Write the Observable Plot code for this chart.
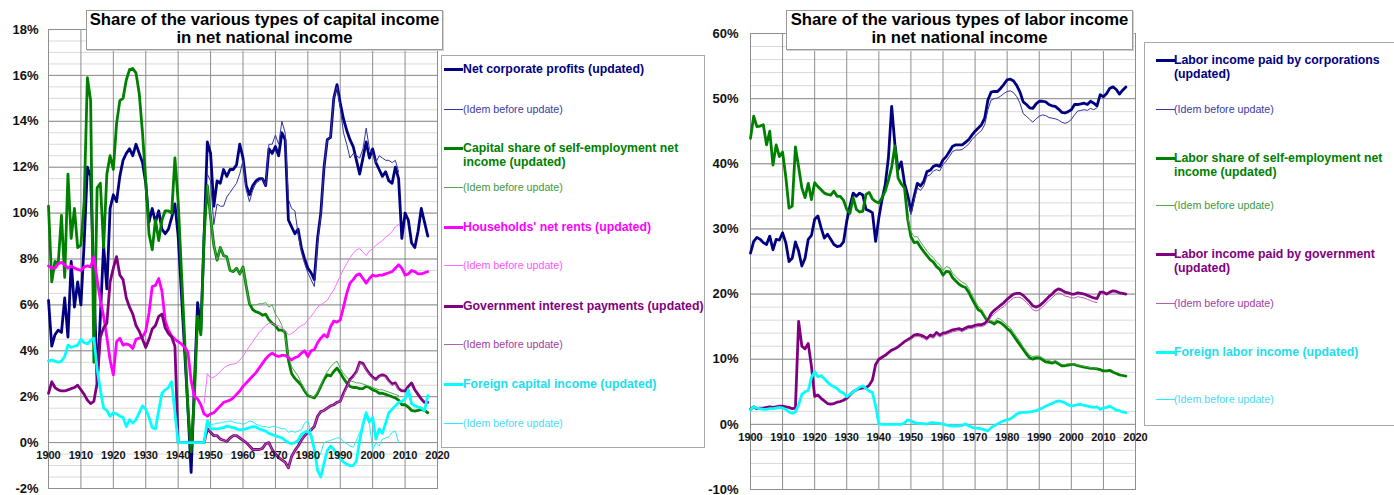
<!DOCTYPE html>
<html><head><meta charset="utf-8">
<script src="https://cdn.jsdelivr.net/npm/d3@7"></script>
<script src="https://cdn.jsdelivr.net/npm/@observablehq/plot@0.6"></script>
<style>
html,body{margin:0;padding:0;background:#fff;}
body{width:1394px;height:495px;position:relative;overflow:hidden;font-family:"Liberation Sans",Arial,sans-serif;}
.chart{position:absolute;top:0;}
.title{position:absolute;top:10px;height:40px;background:#fff;border:1px solid #9a9a9a;box-shadow:1px 1px 0 #d0d0d0;box-sizing:border-box;text-align:center;font-weight:bold;font-size:16.7px;line-height:18px;color:#000;z-index:5;}
.legend{position:absolute;background:#fff;border:1px solid #a8a8a8;box-sizing:border-box;z-index:5;}
.item{position:absolute;left:0;width:100%;}
.sw{position:absolute;width:19px;}
.lab{position:absolute;white-space:nowrap;}
</style></head><body>
<script>
// ---------------- tick values ----------------
const xTicks = [1900,1910,1920,1930,1940,1950,1960,1970,1980,1990,2000,2010,2020];
const capitalYTicks = [-2,0,2,4,6,8,10,12,14,16,18];
const laborYTicks = [-10,0,10,20,30,40,50,60];

// ---------------- capital income (% of net national income) ----------------
// annual values, first year given by the *Start constant
const corporateProfitsStart = 1900;
const corporateProfits = [
  6.2, 4.2, 4.7, 4.9, 4.8, 6.3, 4.6, 7.9, 5.9, 7.0,
  6.0, 8.7, 12.0, 11.6, 7.0, 2.6, 5.5, 8.6, 6.7, 10.2,
  10.8, 10.5, 11.6, 12.3, 12.6, 12.8, 12.5, 13.0, 12.6, 12.2,
  11.3, 9.6, 10.2, 9.6, 10.1, 9.3, 9.1, 9.3, 9.8, 10.4,
  9.0, 6.5, 4.0, 1.5, -1.3, 2.5, 6.1, 4.9, 9.0, 13.1,
  12.6, 10.3, 11.4, 11.3, 11.9, 11.6, 11.9, 11.9, 12.1, 13.0,
  12.4, 11.2, 10.8, 11.2, 11.4, 11.5, 11.5, 11.2, 12.8, 12.6,
  12.9, 12.5, 13.5, 13.2, 9.7, 9.4, 9.1, 9.3, 8.5, 8.0,
  7.6, 7.4, 7.1, 8.9, 10.0, 12.0, 13.2, 13.3, 15.0, 15.6,
  14.8, 14.1, 13.6, 13.2, 12.9, 12.3, 11.7, 12.4, 13.1, 12.4,
  12.8, 12.2, 11.9, 11.6, 11.8, 11.4, 11.3, 12.0, 11.5, 8.9,
  10.0, 9.7, 8.7, 8.5, 9.2, 10.2, 9.6, 9.0
];
const corporateProfitsOldStart = 1949;
const corporateProfitsOld = [
  11.7,
  11.4, 9.5, 10.4, 10.3, 10.3, 10.7, 10.9, 11.1, 11.3, 11.7,
  12.3, 11.0, 10.5, 11.0, 11.3, 11.4, 11.5, 11.2, 13.0, 13.0,
  13.4, 13.0, 14.0, 13.5, 10.6, 10.2, 10.1, 9.1, 8.3, 7.8,
  7.4, 7.1, 6.8, 8.7, 9.9, 12.0, 13.2, 13.3, 15.0, 15.5,
  14.6, 13.5, 13.0, 12.4, 12.6, 12.5, 12.4, 12.8, 13.7, 12.8,
  12.6, 12.2, 12.5, 12.4, 12.3, 12.3, 12.2, 12.3, 11.8
];
const selfEmploymentCapitalStart = 1900;
const selfEmploymentCapital = [
  10.3, 7.0, 7.9, 7.8, 9.9, 7.2, 11.7, 8.9, 10.2, 8.5,
  8.6, 10.5, 15.9, 14.9, 3.5, 11.1, 11.3, 8.5, 11.7, 12.5,
  11.9, 13.9, 14.9, 15.0, 15.8, 16.25, 16.3, 16.1, 15.2, 13.5,
  11.4, 9.1, 8.4, 9.7, 8.8, 9.7, 10.1, 10.1, 10.0, 12.4,
  10.5, 7.5, 4.5, 1.5, -0.4, 2.0, 5.5, 4.7, 9.0, 11.2,
  9.8, 8.6, 7.95, 8.5, 8.15, 8.1, 7.5, 7.45, 7.6, 7.35,
  7.65, 6.8, 6.05, 5.8, 5.7, 5.65, 5.55, 5.6, 5.35, 5.2,
  5.1, 4.9, 4.9, 4.8, 3.6, 3.0, 2.8, 2.65, 2.5, 2.25,
  2.05, 2.0, 1.95, 2.15, 2.45, 2.75, 2.95, 2.9, 3.1, 3.25,
  3.05, 2.8, 2.6, 2.45, 2.4, 2.4, 2.35, 2.35, 2.45, 2.4,
  2.3, 2.25, 2.15, 2.15, 2.1, 2.05, 2.0, 1.95, 1.85, 1.65,
  1.65, 1.55, 1.4, 1.37, 1.4, 1.45, 1.4, 1.3
];
const selfEmploymentCapitalOldStart = 1949;
const selfEmploymentCapitalOld = [
  11.2,
  9.8, 8.6, 7.95, 8.5, 8.15, 8.1, 7.5, 7.45, 7.6, 7.35,
  7.65, 6.8, 6.05, 6.0, 6.0, 6.05, 6.05, 6.1, 5.9, 6.0,
  5.6, 5.4, 5.1, 4.6, 3.8, 3.3, 3.1, 2.9, 2.6, 2.3,
  2.1, 2.0, 2.0, 2.2, 2.5, 2.85, 3.1, 3.3, 3.45, 3.55,
  3.25, 3.0, 2.85, 2.7, 2.65, 2.6, 2.6, 2.55, 2.5, 2.45,
  2.4, 2.35, 2.3, 2.3, 2.25, 2.2, 2.15, 2.1, 2.05
];
const netRentsStart = 1900;
const netRents = [
  7.7, 7.6, 7.6, 7.8, 7.85, 7.75, 7.6, 7.7, 7.6, 7.55,
  7.5, 7.65, 7.7, 7.65, 8.1, 7.1, 6.2, 5.5, 4.6, 3.6,
  2.95, 4.4, 4.55, 4.25, 4.3, 4.25, 4.1, 4.5, 4.55, 4.6,
  4.85, 5.65, 6.8, 6.85, 7.15, 6.6, 5.3, 4.9, 4.65, 4.5,
  4.4, 4.3, 4.15, 3.95, 2.7, 2.0, 1.9, 1.65, 1.25, 1.15,
  1.25, 1.3, 1.45, 1.6, 1.75, 1.8, 1.85, 1.95, 2.1, 2.25,
  2.45, 2.6, 2.75, 2.9, 3.05, 3.25, 3.45, 3.65, 3.8, 3.9,
  3.8, 3.75, 3.8, 3.8, 3.7, 3.6, 3.7, 3.75, 3.9, 4.0,
  3.75, 4.0, 4.05, 4.35, 4.55, 4.7, 4.6, 5.05, 5.3, 5.25,
  5.35, 5.9, 6.5, 6.95, 7.1, 7.3, 7.35, 7.15, 6.95, 7.15,
  7.3, 7.25, 7.3, 7.3, 7.35, 7.4, 7.45, 7.6, 7.75, 7.6,
  7.3, 7.35, 7.5, 7.45, 7.35, 7.35, 7.4, 7.45
];
const netRentsOldStart = 1948;
const netRentsOld = [
  1.7, 3.0,
  2.8, 2.85, 2.95, 3.1, 3.25, 3.35, 3.4, 3.42, 3.45, 3.6,
  3.75, 4.0, 4.2, 4.4, 4.6, 4.8, 4.95, 5.1, 5.2, 5.2,
  5.1, 5.1, 5.0, 4.9, 4.7, 4.75, 4.85, 5.0, 5.1, 5.15,
  5.35, 5.5, 5.7, 5.9, 6.0, 6.1, 6.2, 6.45, 6.65, 6.95,
  7.25, 7.55, 7.8, 8.05, 8.25, 8.4, 8.45, 8.3, 8.15, 8.35,
  8.45, 8.6, 8.7, 8.8, 8.95, 9.05, 9.2, 9.4, 9.5
];
const govInterestStart = 1900;
const govInterest = [
  2.15, 2.65, 2.4, 2.3, 2.25, 2.25, 2.3, 2.35, 2.4, 2.5,
  2.3, 2.1, 1.85, 1.7, 1.8, 2.6, 4.6, 5.0, 5.2, 7.0,
  7.6, 8.1, 7.3, 7.1, 6.3, 5.9, 5.6, 5.1, 4.85, 4.5,
  4.15, 4.5, 4.95, 5.1, 5.5, 5.6, 5.0, 4.75, 4.6, 4.2,
  0.0, 0.0, 0.0, 0.0, 0.0, 0.0, 0.0, 0.0, 0.0, 0.6,
  0.45, 0.3, 0.3, 0.15, 0.1, 0.05, 0.2, 0.3, 0.3, 0.2,
  0.1, 0.0, -0.15, -0.3, -0.3, -0.3, -0.25, -0.05, 0.0, -0.3,
  -0.5, -0.65, -0.75, -0.85, -1.1, -0.6, -0.35, -0.15, 0.1, 0.3,
  0.45, 0.55, 0.7, 1.15, 1.35, 1.4, 1.5, 1.6, 1.65, 1.75,
  1.8, 2.15, 2.45, 2.75, 2.9, 3.1, 3.5, 3.45, 3.2, 3.0,
  2.85, 2.75, 2.9, 2.95, 2.9, 2.7, 2.55, 2.6, 2.35, 2.25,
  2.25, 2.45, 2.6, 2.3, 2.1, 1.9, 1.75, 1.75
];
const govInterestOldStart = 1949;
const govInterestOld = [
  0.6,
  0.45, 0.3, 0.3, 0.15, 0.1, 0.05, 0.2, 0.3, 0.3, 0.2,
  0.1, 0.0, -0.15, -0.3, -0.3, -0.3, -0.25, -0.05, 0.0, -0.3,
  -0.5, -0.65, -0.75, -0.85, -1.1, -0.6, -0.35, -0.15, 0.1, 0.3,
  0.45, 0.55, 0.7, 1.15, 1.35, 1.4, 1.5, 1.6, 1.65, 1.75,
  1.8, 2.1, 2.4, 2.7, 2.85, 3.05, 3.45, 3.4, 3.15, 2.95,
  2.8, 2.7, 2.85, 2.9, 2.85, 2.65, 2.5, 2.55, 2.3
];
const foreignCapitalStart = 1900;
const foreignCapital = [
  3.55, 3.6, 3.55, 3.5, 3.55, 3.75, 4.25, 4.15, 4.2, 4.25,
  4.5, 4.35, 4.3, 4.45, 4.55, 3.2, 2.3, 1.5, 1.4, 1.15,
  1.3, 1.25, 1.15, 1.1, 0.7, 1.0, 0.85, 1.0, 1.3, 1.6,
  1.45, 1.1, 0.65, 0.6, 1.4, 2.15, 2.3, 2.4, 2.65, 1.3,
  0.0, 0.0, 0.0, 0.0, 0.0, 0.0, 0.0, 0.0, 0.0, 0.95,
  0.6, 0.6, 0.6, 0.62, 0.65, 0.72, 0.68, 0.65, 0.6, 0.55,
  0.58, 0.6, 0.65, 0.7, 0.68, 0.6, 0.55, 0.5, 0.4, 0.35,
  0.3, 0.25, 0.2, 0.1, 0.0, -0.05, 0.0, 0.1, 0.35, 0.45,
  0.5, 0.3, -0.3, -1.2, -1.5, -0.9, -0.35, -0.15, -0.3, -0.5,
  -0.7, -0.85, -0.95, -1.0, -1.0, -0.8, 0.1, 0.8, 1.3, 0.9,
  1.1, 0.15, 0.6, 0.4, 0.85, 1.3, 1.45, 1.6, 1.75, 1.8,
  1.9, 2.3, 1.7, 1.6, 1.55, 1.5, 1.4, 2.05
];
const foreignCapitalOldStart = 1949;
const foreignCapitalOld = [
  1.0,
  0.8, 0.8, 0.85, 0.85, 0.9, 0.9, 0.95, 0.9, 0.85, 0.85,
  0.8, 0.85, 0.95, 0.9, 0.8, 0.75, 0.7, 0.7, 0.65, 0.7,
  0.7, 0.65, 0.6, 0.6, 0.45, 0.5, 0.45, 0.5, 0.55, 0.85,
  0.95, 0.45, -0.15, -0.7, -0.45, 0.0, 0.05, 0.1, 0.15, 0.2,
  0.2, 0.05, -0.05, -0.15, -0.2, 0.1, 0.45, 0.7, 1.1, 0.8,
  -0.3, 0.0, -0.15, 0.15, 0.2, 0.25, 0.45, 0.5, 0.0
];

// ---------------- labor income (% of net national income) ----------------
const laborCorporationsStart = 1900;
const laborCorporations = [
  26.3, 28.1, 28.7, 28.4, 27.9, 27.6, 28.9, 26.8, 28.4, 28.3,
  29.4, 27.9, 25.0, 25.5, 28.0, 26.6, 24.3, 25.5, 28.4, 29.0,
  31.5, 32.0, 30.2, 28.6, 29.2, 28.4, 27.6, 27.3, 27.4, 28.0,
  31.2, 33.5, 35.5, 35.0, 35.5, 35.2, 33.0, 32.8, 32.5, 28.1,
  31.7, 34.5, 36.8, 41.0, 48.8, 43.0, 39.1, 40.3, 37.0, 35.2,
  32.7, 35.0, 37.0, 36.6, 37.3, 38.8, 39.0, 39.6, 39.8, 39.6,
  40.6, 41.1, 41.9, 42.7, 42.9, 42.9, 42.9, 43.3, 43.7, 44.4,
  45.0, 45.5, 46.0, 47.0, 49.8, 51.0, 51.1, 51.1, 51.6, 52.2,
  52.9, 53.0, 52.7, 52.0, 51.0, 49.5, 49.1, 48.6, 48.5, 49.2,
  49.6, 49.6, 49.5, 49.1, 48.9, 48.8, 48.4, 47.9, 47.8, 48.0,
  48.3, 49.1, 49.1, 49.2, 49.3, 49.1, 49.6, 49.3, 48.9, 50.6,
  50.3, 50.8, 51.6, 51.8, 51.4, 50.7, 51.3, 51.8
];
const laborCorporationsOldStart = 1949;
const laborCorporationsOld = [
  34.6,
  32.2, 34.4, 36.3, 35.9, 36.6, 38.1, 38.3, 38.9, 39.1, 38.9,
  39.9, 40.4, 41.1, 41.9, 42.1, 42.1, 42.2, 42.6, 43.0, 43.7,
  44.2, 44.7, 45.1, 46.0, 48.3, 49.8, 50.0, 50.1, 50.4, 50.8,
  51.1, 51.2, 50.9, 50.3, 49.3, 47.7, 47.3, 46.8, 46.4, 46.9,
  47.3, 47.5, 47.4, 47.1, 47.0, 46.9, 46.7, 46.4, 46.2, 46.4,
  46.8, 47.5, 48.1, 48.2, 48.3, 48.2, 48.5, 48.3, 48.6
];
const laborSelfEmploymentStart = 1900;
const laborSelfEmployment = [
  43.9, 47.3, 45.7, 45.8, 46.0, 42.9, 45.0, 39.8, 42.9, 41.1,
  41.8, 38.0, 33.2, 33.5, 42.6, 39.5, 36.3, 34.8, 37.0, 34.5,
  37.1, 36.5, 36.0, 35.5, 35.3, 35.2, 35.8, 35.0, 35.0, 34.4,
  33.0, 32.4, 34.8, 33.0, 32.6, 32.7, 35.3, 35.6, 34.6, 34.2,
  34.0, 34.8, 35.8, 37.5, 39.5, 42.7, 37.8, 36.9, 36.3, 31.5,
  28.8, 27.9, 28.0, 27.2, 26.5, 25.9, 25.3, 24.9, 24.2, 23.8,
  22.9, 23.5, 23.4, 22.5, 22.0, 21.5, 21.2, 21.0, 20.3, 19.3,
  18.4, 17.6, 17.3, 16.5, 15.8, 15.7, 15.4, 15.8, 15.6, 15.2,
  14.7, 14.3, 13.6, 12.9, 12.2, 11.5, 10.8, 10.2, 10.0, 10.2,
  10.2, 9.9, 9.6, 9.5, 9.4, 9.6, 9.3, 9.0, 9.0, 9.1,
  9.2, 9.2, 9.0, 8.9, 8.8, 8.7, 8.6, 8.6, 8.5, 8.4,
  8.2, 8.2, 8.3, 8.0, 7.8, 7.6, 7.5, 7.4
];
const laborSelfEmploymentOldStart = 1949;
const laborSelfEmploymentOld = [
  31.8,
  29.6, 28.8, 28.8, 28.0, 27.3, 26.6, 26.0, 25.6, 24.9, 24.5,
  23.6, 24.2, 24.1, 23.2, 22.7, 22.2, 21.8, 21.6, 20.9, 19.9,
  19.0, 18.1, 17.7, 16.8, 16.0, 15.9, 15.8, 16.3, 16.1, 15.7,
  15.2, 14.8, 14.1, 13.4, 12.7, 11.9, 11.2, 10.6, 10.4, 10.5,
  10.5, 10.2, 9.9, 9.8, 9.6, 9.8, 9.5, 9.2, 9.2, 9.3,
  9.3, 9.3, 9.1, 9.0, 8.9, 8.8, 8.7, 8.7, 8.6
];
const laborGovernmentStart = 1900;
const laborGovernment = [
  2.3, 2.7, 2.4, 2.5, 2.5, 2.6, 2.7, 2.6, 2.7, 2.8,
  2.8, 2.7, 2.6, 2.4, 2.5, 15.8, 12.0, 11.6, 12.4, 8.9,
  4.3, 4.5, 4.0, 3.6, 3.2, 3.1, 3.2, 3.4, 3.5, 3.7,
  4.0, 4.5, 5.0, 5.3, 5.5, 5.6, 5.6, 6.0, 6.8, 9.2,
  10.0, 10.3, 10.6, 11.0, 11.4, 11.6, 11.9, 12.3, 12.7, 13.0,
  13.3, 13.7, 13.8, 13.7, 13.5, 13.2, 13.7, 13.5, 14.1, 13.7,
  14.0, 14.1, 14.3, 14.5, 14.6, 14.7, 14.5, 14.8, 15.0, 15.0,
  15.2, 15.3, 15.3, 15.5, 16.0, 17.0, 17.5, 17.9, 18.3, 18.7,
  19.2, 19.6, 20.0, 20.1, 20.1, 19.8, 19.3, 18.8, 18.2, 18.0,
  18.2, 18.6, 19.1, 19.6, 20.0, 20.5, 20.8, 20.6, 20.3, 20.2,
  20.0, 20.0, 20.2, 20.1, 20.0, 19.8, 19.6, 19.4, 19.3, 20.3,
  20.3, 20.0, 20.3, 20.5, 20.4, 20.2, 20.1, 20.0
];
const laborGovernmentOldStart = 1949;
const laborGovernmentOld = [
  12.8,
  13.0, 13.4, 13.5, 13.4, 13.2, 12.9, 13.4, 13.2, 13.8, 13.4,
  13.7, 13.8, 14.0, 14.2, 14.3, 14.4, 14.2, 14.5, 14.7, 14.7,
  14.9, 15.0, 15.0, 15.2, 15.6, 16.5, 17.0, 17.4, 17.8, 18.1,
  18.6, 19.0, 19.4, 19.5, 19.5, 19.2, 18.7, 18.2, 17.6, 17.4,
  17.6, 18.0, 18.5, 19.0, 19.4, 19.9, 20.2, 20.0, 19.7, 19.6,
  19.4, 19.4, 19.6, 19.5, 19.4, 19.2, 19.0, 18.8, 18.7
];
const laborForeignStart = 1900;
const laborForeign = [
  2.2, 2.7, 2.5, 2.4, 2.3, 2.3, 2.4, 2.4, 2.5, 2.6,
  2.5, 2.3, 1.9, 1.7, 1.9, 3.0, 4.6, 5.0, 5.2, 7.2,
  8.1, 7.3, 7.5, 7.0, 6.5, 6.0, 5.8, 5.5, 5.0, 4.8,
  4.25, 4.6, 5.0, 5.3, 5.7, 5.9, 5.5, 5.1, 4.9, 2.8,
  0.1, 0.0, 0.0, 0.0, 0.0, 0.0, 0.0, 0.0, 0.2, 0.7,
  0.5, 0.3, 0.15, 0.15, 0.1, 0.05, 0.25, 0.25, 0.2, 0.15,
  0.05, -0.1, -0.2, -0.25, -0.25, -0.25, -0.15, 0.05, -0.2, -0.45,
  -0.55, -0.6, -0.7, -0.85, -1.0, -0.5, -0.2, 0.05, 0.35, 0.55,
  0.7, 0.85, 1.2, 1.6, 1.8, 1.85, 1.85, 1.9, 2.0, 2.1,
  2.3, 2.5, 2.8, 3.0, 3.2, 3.45, 3.6, 3.5, 3.3, 3.0,
  2.85, 2.9, 3.05, 3.05, 2.9, 2.8, 2.7, 2.6, 2.7, 2.3,
  2.5, 2.6, 2.8, 2.5, 2.2, 2.1, 1.9, 1.8
];
const laborForeignOldStart = 1949;
const laborForeignOld = [
  0.7,
  0.5, 0.3, 0.15, 0.15, 0.1, 0.05, 0.25, 0.25, 0.2, 0.15,
  0.05, -0.1, -0.2, -0.25, -0.25, -0.25, -0.15, 0.05, -0.2, -0.45,
  -0.55, -0.6, -0.7, -0.85, -1.0, -0.5, -0.2, 0.05, 0.35, 0.55,
  0.7, 0.85, 1.2, 1.6, 1.8, 1.85, 1.85, 1.9, 2.0, 2.1,
  2.3, 2.5, 2.8, 3.0, 3.2, 3.45, 3.6, 3.5, 3.3, 3.0,
  2.85, 2.9, 3.05, 3.05, 2.9, 2.8, 2.7, 2.6, 2.7
];

// ---------------- labels ----------------
const capitalTitle = ["Share of the various types of capital income", "in net national income"];
const laborTitle = ["Share of the various types of labor income", "in net national income"];
const capitalLabels = [
  "Net corporate profits (updated)", "(Idem before update)",
  "Capital share of self-employment net|income (updated)", "(Idem before update)",
  "Households' net rents (updated)", "(Idem before update)",
  "Government interest payments (updated)", "(Idem before update)",
  "Foreign capital income (updated)", "(Idem before update)"
];
const laborLabels = [
  "Labor income paid by corporations|(updated)", "(Idem before update)",
  "Labor share of self-employment net|income (updated)", "(Idem before update)",
  "Labor income paid by government|(updated)", "(Idem before update)",
  "Foreign labor income (updated)", "(Idem before update)"
];

// ---------------- styling ----------------
const lineColors = ["#000080","#3434a4","#008000","#4fa84f","#ff00ff","#ff70ff","#800080","#b060b0","#00ffff","#20f0ff"];
const textColors = ["#000080","#3a3aa8","#008000","#3c9a3c","#ff00ff","#ff55ff","#800080","#a040a0","#22ddee","#44ddf5"];
const FONT = "'Liberation Sans', Arial, Helvetica, sans-serif";

const capitalSeries = [
  [corporateProfits, corporateProfitsStart],
  [corporateProfitsOld, corporateProfitsOldStart],
  [selfEmploymentCapital, selfEmploymentCapitalStart],
  [selfEmploymentCapitalOld, selfEmploymentCapitalOldStart],
  [netRents, netRentsStart],
  [netRentsOld, netRentsOldStart],
  [govInterest, govInterestStart],
  [govInterestOld, govInterestOldStart],
  [foreignCapital, foreignCapitalStart],
  [foreignCapitalOld, foreignCapitalOldStart]
];
const laborSeries = [
  [laborCorporations, laborCorporationsStart],
  [laborCorporationsOld, laborCorporationsOldStart],
  [laborSelfEmployment, laborSelfEmploymentStart],
  [laborSelfEmploymentOld, laborSelfEmploymentOldStart],
  [laborGovernment, laborGovernmentStart],
  [laborGovernmentOld, laborGovernmentOldStart],
  [laborForeign, laborForeignStart],
  [laborForeignOld, laborForeignOldStart]
];
const laborColorIdx = [0,1,2,3,6,7,8,9];

const toRows = (vals, start) => vals.map((v, i) => ({year: start + i, value: v}));

function drawPanel(o) {
  const marks = [
    Plot.ruleY(o.minor, {stroke: "#d9d9d9", strokeWidth: 1}),
    Plot.ruleY(o.major, {stroke: "#8e8e8e", strokeWidth: 1}),
    Plot.ruleX(xTicks, {stroke: "#8e8e8e", strokeWidth: 1}),
    Plot.frame({stroke: "#8e8e8e"})
  ];
  o.series.forEach(([vals, start], i) => {
    const ci = o.colorIdx[i];
    const thick = ci % 2 === 0;
    marks.push(Plot.line(toRows(vals, start), {
      x: "year", y: "value", stroke: lineColors[ci],
      strokeWidth: thick ? 2.8 : 1, strokeLinejoin: "round", strokeLinecap: "round"
    }));
  });
  marks.push(Plot.text(xTicks, {
    x: d => d, y: () => 0, dy: 13, text: d => String(d),
    fontSize: 11, fontWeight: "bold", fill: "#111"
  }));
  const svg = Plot.plot({
    width: o.width, height: 495,
    marginLeft: o.ml, marginRight: 3, marginTop: o.mt, marginBottom: o.mb,
    x: {domain: [1900, 2020], axis: null},
    y: {domain: o.domain, ticks: o.major, tickFormat: d => d + "%", tickSize: 0, tickPadding: o.pad, label: null},
    style: {fontFamily: FONT, fontSize: "13px", fontWeight: "bold", color: "#111", background: "transparent", overflow: "visible"},
    marks
  });
  svg.classList.add("chart");
  svg.style.left = o.left + "px";
  svg.style.maxWidth = "none";
  document.body.appendChild(svg);
}

drawPanel({left: 0, width: 440, ml: 48, mt: 29, mb: 7, pad: 10,
  domain: [-2, 18], major: capitalYTicks, minor: d3.range(-2, 18.01, 0.5),
  series: capitalSeries, colorIdx: [0,1,2,3,4,5,6,7,8,9]});
drawPanel({left: 700, width: 438, ml: 50, mt: 33, mb: 6, pad: 12,
  domain: [-10, 60], major: laborYTicks, minor: d3.range(-10, 60.01, 2),
  series: laborSeries, colorIdx: laborColorIdx});

function title(lines, left, width) {
  const d = document.createElement("div");
  d.className = "title";
  d.style.left = left + "px";
  d.style.width = width + "px";
  d.innerHTML = lines.join("<br>");
  document.body.appendChild(d);
}
title(capitalTitle, 86, 357);
title(laborTitle, 786, 347);

function legend(box, labels, colorIdx, centers, swX, txX) {
  const L = document.createElement("div");
  L.className = "legend";
  Object.assign(L.style, {left: box[0] + "px", top: box[1] + "px", width: box[2] + "px", height: box[3] + "px"});
  labels.forEach((lab, i) => {
    const ci = colorIdx[i];
    const thick = ci % 2 === 0;
    const lh = thick ? 14.5 : 13;
    const it = document.createElement("div");
    it.className = "item";
    it.style.top = (centers[i] - box[1] - lh / 2) + "px";
    const sw = document.createElement("div");
    sw.className = "sw";
    const th = thick ? 3 : 1;
    Object.assign(sw.style, {left: swX + "px", top: (lh / 2 - th / 2) + "px", height: th + "px", background: lineColors[ci]});
    const t = document.createElement("div");
    t.className = "lab";
    Object.assign(t.style, {left: txX + "px", top: "0px", color: textColors[ci],
      fontWeight: thick ? "bold" : "normal", fontSize: thick ? "12.3px" : "10.7px", lineHeight: lh + "px"});
    t.innerHTML = lab.split("|").join("<br>");
    it.appendChild(sw); it.appendChild(t);
    L.appendChild(it);
  });
  document.body.appendChild(L);
}
legend([441, 55, 264, 393], capitalLabels, [0,1,2,3,4,5,6,7,8,9],
  [68,108,147,186,226,264,305,343,383,422], 2, 21);
legend([1144, 42, 260, 384], laborLabels, laborColorIdx,
  [59,108,157,204,253,302,351,398], 11, 29);
</script>
</body></html>
